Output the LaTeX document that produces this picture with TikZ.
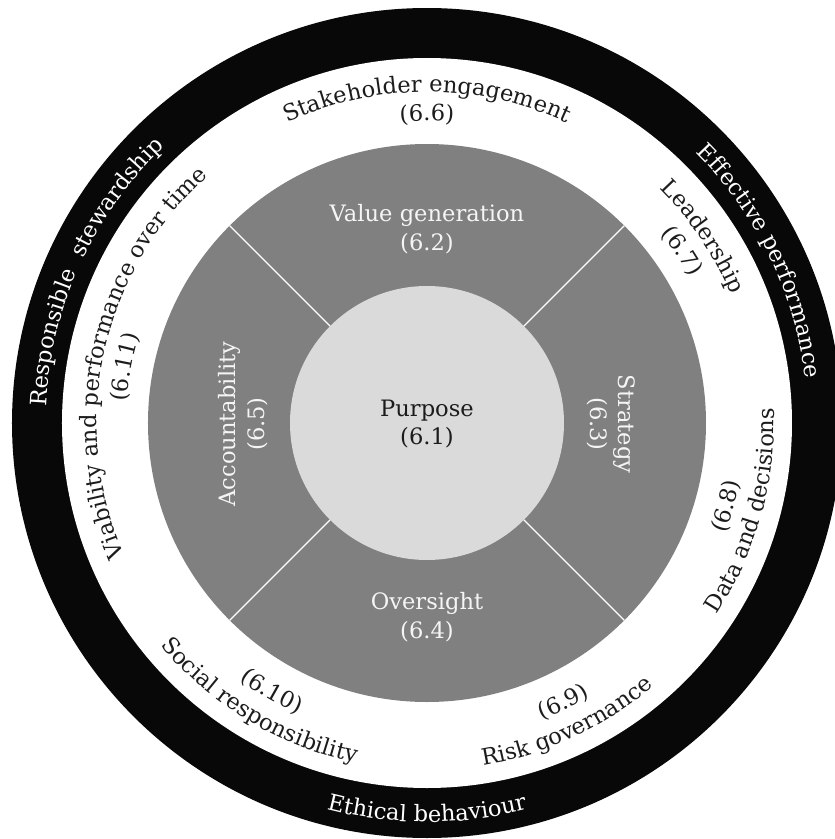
\documentclass[tikz,border=0pt]{standalone}
\usepackage{fontspec}
\setmainfont{DejaVu Serif}
\usetikzlibrary{decorations.text}
\definecolor{ringblack}{RGB}{8,8,8}
\definecolor{ringgray}{RGB}{127,128,127}
\definecolor{coregray}{RGB}{217,218,217}
\definecolor{darktext}{RGB}{28,28,28}
\definecolor{lighttext}{RGB}{245,245,245}
\newcommand\labelfont{\fontsize{22.6}{28.5}\selectfont}
% clockwise arc text (letter tops point outward)
\newcommand\cwtext[4]{%
  \path[decorate, decoration={text along path, text align=center, text color=#1,
        text={|\labelfont|#4}}]
    (#3+85:#2pt) arc[start angle=#3+85, end angle=#3-85, radius=#2pt];}
% counter-clockwise arc text (letter tops point inward)
\newcommand\ccwtext[4]{%
  \path[decorate, decoration={text along path, text align=center, text color=#1,
        text={|\labelfont|#4}}]
    (#3-85:#2pt) arc[start angle=#3-85, end angle=#3+85, radius=#2pt];}
\tikzset{
  corelabel/.style={align=center, font=\labelfont, text=darktext, inner sep=0pt},
  ringlabel/.style={align=center, font=\labelfont, text=lighttext, inner sep=0pt},
  separator/.style={draw=white, line width=1.4pt}
}
\begin{document}
\begin{tikzpicture}[x=1pt,y=1pt]
\useasboundingbox (-427,-416) rectangle (408,423);
% discs
\fill[ringblack] (0,0) circle[radius=415pt];
\fill[white] (0,0) circle[radius=365pt];
\fill[ringgray] (0,0) circle[radius=279pt];
\fill[coregray] (0,0) circle[radius=137pt];
% separators
\coordinate (s1a) at (45:137pt);  \coordinate (s1b) at (45:279pt);
\coordinate (s2a) at (135:137pt); \coordinate (s2b) at (135:279pt);
\coordinate (s3a) at (225:137pt); \coordinate (s3b) at (225:279pt);
\coordinate (s4a) at (315:137pt); \coordinate (s4b) at (315:279pt);
\draw[separator] (s1a) -- (s1b);
\draw[separator] (s2a) -- (s2b);
\draw[separator] (s3a) -- (s3b);
\draw[separator] (s4a) -- (s4b);
% core and inner ring labels
\node[corelabel] (purpose) at (0,-1) {Purpose\\(6.1)};
\node[ringlabel] (valuegen) at (0,194) {Value generation\\(6.2)};
\node[ringlabel, rotate=-90] (strategy) at (184,-1) {Strategy\\(6.3)};
\node[ringlabel] (oversight) at (0,-194) {Oversight\\(6.4)};
\node[ringlabel, rotate=90] (accountability) at (-184,-1) {Accountability\\(6.5)};
% white ring labels
\cwtext{darktext}{331}{90}{Stakeholder engagement}
\cwtext{darktext}{302}{90}{(6.6)}
\cwtext{darktext}{330}{34}{Leadership}
\cwtext{darktext}{301}{34}{(6.7)}
\ccwtext{darktext}{347}{-15.5}{Data and decisions}
\ccwtext{darktext}{318}{-15.5}{(6.8)}
\ccwtext{darktext}{347}{-65}{Risk governance}
\ccwtext{darktext}{318}{-64}{(6.9)}
\ccwtext{darktext}{347}{-121}{Social responsibility}
\ccwtext{darktext}{318}{-120}{(6.10)}
\cwtext{darktext}{330}{167.6}{Viability and performance over time}
\cwtext{darktext}{301}{169.5}{(6.11)}
% black ring labels
\cwtext{white}{381}{155.5}{Responsible {\kern0.35em}stewardship}
\cwtext{white}{381}{25.9}{Effective performance}
\ccwtext{white}{399}{270}{Ethical behaviour}
\end{tikzpicture}
\end{document}
